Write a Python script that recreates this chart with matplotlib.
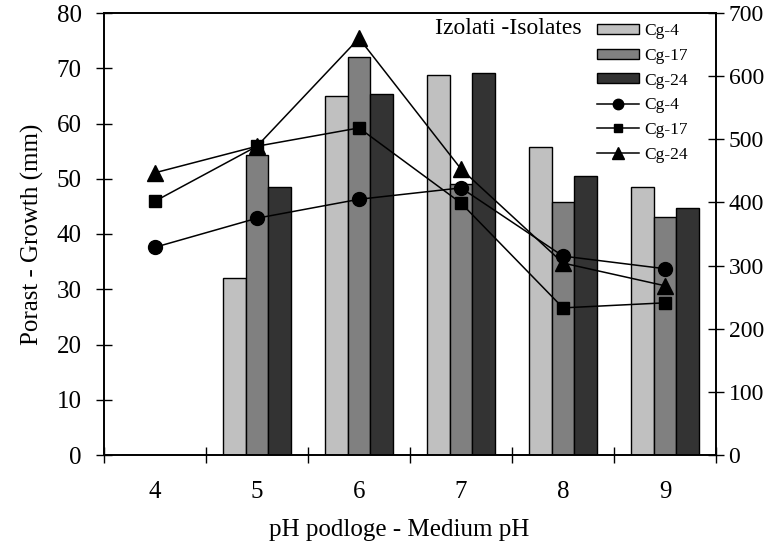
import matplotlib
matplotlib.use("Agg")
import matplotlib.pyplot as plt
import numpy as np

categories = ["4", "5", "6", "7", "8", "9"]
series = ["Cg-4", "Cg-17", "Cg-24"]
bar_cg4 = [0, 32.0, 65.0, 68.8, 55.7, 48.5]
bar_cg17 = [0, 54.3, 72.0, 49.0, 45.8, 43.1]
bar_cg24 = [0, 48.5, 65.3, 69.1, 50.5, 44.7]
line_cg4 = [329, 375, 405, 423, 315, 295]
line_cg17 = [402, 489, 518, 399, 233, 241]
line_cg24 = [447, 489, 660, 453, 304, 268]
legend_title = "Izolati -Isolates"

plt.rcParams['font.family'] = ['Liberation Serif', 'DejaVu Serif']

fig = plt.figure(figsize=(7.69, 5.5), dpi=100)
ax = fig.add_axes([104/769, 95/550, 612/769, 442/550])
ax2 = ax.twinx()

x = np.arange(len(categories))
w = 0.225
colors = ["#c0c0c0", "#808080", "#333333"]
bars = []
for i, (vals, c, lab) in enumerate(zip([bar_cg4, bar_cg17, bar_cg24], colors, series)):
    b = ax.bar(x + (i - 1) * w, vals, width=w, color=c, edgecolor="black", linewidth=1.0, label=lab)
    bars.append(b)

lines = []
for vals, m, ms, lab in zip([line_cg4, line_cg17, line_cg24], ["o", "s", "^"], [10, 8.5, 11], series):
    l, = ax2.plot(x, vals, color="black", linewidth=1.1, marker=m, markersize=ms, label=lab)
    lines.append(l)

ax.set_xlim(-0.5, len(categories) - 0.5)
ax.set_ylim(0, 80)
ax2.set_ylim(0, 700)
ax.set_yticks(np.arange(0, 81, 10))
ax2.set_yticks(np.arange(0, 701, 100))

ax.set_xticks(np.arange(-0.5, len(categories), 1.0))
ax.set_xticklabels([])
ax.set_xticks(x, minor=True)
ax.set_xticklabels(categories, minor=True)
ax.tick_params(axis="x", which="major", direction="inout", length=12, width=1)
ax.tick_params(axis="x", which="minor", length=0, pad=19, labelsize=18)
ax.tick_params(axis="y", direction="inout", length=12, width=1, labelsize=18, pad=10)
ax2.tick_params(axis="y", direction="inout", length=12, width=1, labelsize=17, pad=3)

for a in (ax, ax2):
    for s in a.spines.values():
        s.set_linewidth(1.2)

ax.set_xlabel("pH podloge - Medium pH", fontsize=18, labelpad=11)
ax.xaxis.label.set_x(0.482)
ax.set_ylabel("Porast - Growth (mm)", fontsize=18, labelpad=9)

handles = bars + lines
leg = ax2.legend(handles, series + series, loc="upper left", bbox_to_anchor=(0.805, 0.977),
                 frameon=False, fontsize=12.5, handlelength=2.45, handleheight=0.5,
                 labelspacing=0.5, handletextpad=0.3, borderaxespad=0, borderpad=0,
                 markerscale=0.75)
ax2.text(0.5415, 0.964, legend_title, transform=ax2.transAxes, fontsize=17, va="center", ha="left")

fig.savefig("out.png", dpi=100)
